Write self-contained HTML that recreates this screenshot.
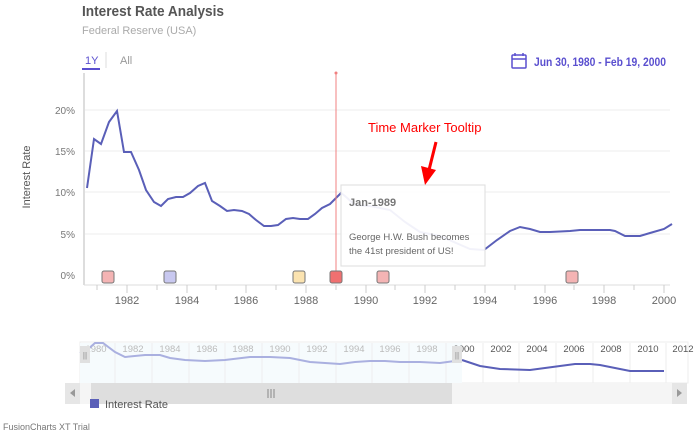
<!DOCTYPE html>
<html><head><meta charset="utf-8"><style>
html,body{margin:0;padding:0;background:#fff;}
svg{display:block;font-family:"Liberation Sans",sans-serif;}
</style></head><body>
<svg width="696" height="437" viewBox="0 0 696 437" xmlns="http://www.w3.org/2000/svg">
<text x="82" y="16" font-size="15" font-weight="bold" fill="#555" textLength="142" lengthAdjust="spacingAndGlyphs">Interest Rate Analysis</text>
<text x="82" y="34" font-size="11" fill="#aaa">Federal Reserve (USA)</text>
<text x="85" y="64" font-size="11" fill="#5a4fcf">1Y</text>
<rect x="82" y="68" width="18" height="2" fill="#5a4fcf"/>
<line x1="106" y1="52" x2="106" y2="68" stroke="#ddd"/>
<text x="120" y="64" font-size="11" fill="#999">All</text>
<g stroke="#5a4fcf" fill="none" stroke-width="1.5"><rect x="512" y="55" width="14" height="13" rx="1"/><line x1="512" y1="59" x2="526" y2="59"/><line x1="515" y1="53" x2="515" y2="56"/><line x1="523" y1="53" x2="523" y2="56"/></g>
<text x="534" y="66" font-size="12" font-weight="bold" fill="#5a4fcf" textLength="132" lengthAdjust="spacingAndGlyphs">Jun 30, 1980 - Feb 19, 2000</text>
<g stroke="#eee"><line x1="84" y1="110" x2="670" y2="110"/><line x1="84" y1="151" x2="670" y2="151"/><line x1="84" y1="192" x2="670" y2="192"/><line x1="84" y1="234" x2="670" y2="234"/></g>
<line x1="84" y1="73" x2="84" y2="285" stroke="#ddd" stroke-width="2"/>
<line x1="84" y1="285" x2="670" y2="285" stroke="#ddd"/>
<g font-size="10" fill="#777" text-anchor="end"><text x="75" y="114">20%</text><text x="75" y="155">15%</text><text x="75" y="196">10%</text><text x="75" y="238">5%</text><text x="75" y="279">0%</text></g>
<text transform="translate(30,177) rotate(-90)" font-size="11" fill="#555" text-anchor="middle">Interest Rate</text>
<g stroke="#ccc"><line x1="97" y1="285" x2="97" y2="290"/><line x1="127" y1="285" x2="127" y2="293"/><line x1="157" y1="285" x2="157" y2="290"/><line x1="187" y1="285" x2="187" y2="293"/><line x1="216" y1="285" x2="216" y2="290"/><line x1="246" y1="285" x2="246" y2="293"/><line x1="276" y1="285" x2="276" y2="290"/><line x1="306" y1="285" x2="306" y2="293"/><line x1="336" y1="285" x2="336" y2="290"/><line x1="366" y1="285" x2="366" y2="293"/><line x1="395" y1="285" x2="395" y2="290"/><line x1="425" y1="285" x2="425" y2="293"/><line x1="455" y1="285" x2="455" y2="290"/><line x1="485" y1="285" x2="485" y2="293"/><line x1="515" y1="285" x2="515" y2="290"/><line x1="545" y1="285" x2="545" y2="293"/><line x1="574" y1="285" x2="574" y2="290"/><line x1="604" y1="285" x2="604" y2="293"/><line x1="634" y1="285" x2="634" y2="290"/><line x1="664" y1="285" x2="664" y2="293"/></g>
<g font-size="11" fill="#666" text-anchor="middle"><text x="127" y="304">1982</text><text x="187" y="304">1984</text><text x="246" y="304">1986</text><text x="306" y="304">1988</text><text x="366" y="304">1990</text><text x="425" y="304">1992</text><text x="485" y="304">1994</text><text x="545" y="304">1996</text><text x="604" y="304">1998</text><text x="664" y="304">2000</text></g>
<polyline fill="none" stroke="#5a5fb8" stroke-width="2" points="87,188 94,139 101,144 109,122 117,111 124,152 131,152 139,170 146,190 154,202 161,206 168,199 176,197 183,197 190,193 198,186 205,183 212,201 220,206 227,211 234,210 242,211 249,214 256,220 264,226 271,226 278,225 286,219 293,218 300,219 308,219 315,214 322,208 330,204 337,197 341,193 345,196 355,205 370,206 390,210 405,222 420,232 440,236 470,249 484,250 497,240 510,231 520,227 530,229 540,232 550,232 570,231 580,230 610,230 615,231 625,236 640,236 650,233 664,229 672,224"/>
<line x1="336" y1="73" x2="336" y2="278" stroke="#f08080" stroke-width="1"/>
<circle cx="336" cy="73" r="1.5" fill="#f08080"/>
<rect x="341" y="185" width="144" height="81" fill="#fff" fill-opacity="0.92" stroke="#ddd"/>
<text x="349" y="206" font-size="11" font-weight="bold" fill="#777">Jan-1989</text>
<text x="349" y="240" font-size="9.5" fill="#666">George H.W. Bush becomes</text>
<text x="349" y="254" font-size="9.5" fill="#666">the 41st president of US!</text>
<text x="368" y="132" font-size="13" fill="#f00">Time Marker Tooltip</text>
<line x1="436" y1="142" x2="429" y2="170" stroke="#f00" stroke-width="3"/>
<polygon points="421,166 436,170 425,185" fill="#f00"/>
<g stroke="#777" stroke-width="1"><rect x="102" y="271" width="12" height="12" rx="2" fill="#f4b4b4"/><rect x="164" y="271" width="12" height="12" rx="2" fill="#c8c8f0"/><rect x="293" y="271" width="12" height="12" rx="2" fill="#fbe3b0"/><rect x="330" y="271" width="12" height="12" rx="2" fill="#f07070"/><rect x="377" y="271" width="12" height="12" rx="2" fill="#f4b4b4"/><rect x="566" y="271" width="12" height="12" rx="2" fill="#f4b4b4"/></g>
<rect x="80" y="342" width="608" height="41" fill="#fff" stroke="#eee"/>
<rect x="80" y="343" width="382" height="40" fill="#f6fbfd"/>
<g stroke="#eee"><line x1="115" y1="343" x2="115" y2="383"/><line x1="152" y1="343" x2="152" y2="383"/><line x1="189" y1="343" x2="189" y2="383"/><line x1="225" y1="343" x2="225" y2="383"/><line x1="262" y1="343" x2="262" y2="383"/><line x1="299" y1="343" x2="299" y2="383"/><line x1="336" y1="343" x2="336" y2="383"/><line x1="372" y1="343" x2="372" y2="383"/><line x1="409" y1="343" x2="409" y2="383"/><line x1="446" y1="343" x2="446" y2="383"/><line x1="483" y1="343" x2="483" y2="383"/><line x1="519" y1="343" x2="519" y2="383"/><line x1="556" y1="343" x2="556" y2="383"/><line x1="593" y1="343" x2="593" y2="383"/><line x1="630" y1="343" x2="630" y2="383"/><line x1="666" y1="343" x2="666" y2="383"/></g>
<g font-size="9.5" text-anchor="middle"><g fill="#bbb"><text x="96" y="352">1980</text><text x="133" y="352">1982</text><text x="170" y="352">1984</text><text x="207" y="352">1986</text><text x="243" y="352">1988</text><text x="280" y="352">1990</text><text x="317" y="352">1992</text><text x="354" y="352">1994</text><text x="390" y="352">1996</text><text x="427" y="352">1998</text></g><g fill="#555"><text x="464" y="352">2000</text><text x="501" y="352">2002</text><text x="537" y="352">2004</text><text x="574" y="352">2006</text><text x="611" y="352">2008</text><text x="648" y="352">2010</text><text x="683" y="352">2012</text></g></g>
<polyline fill="none" stroke="#aab0e0" stroke-width="2" points="80,353 87,350 95,343 103,343 115,352 125,357 145,355 160,355 170,358 185,360 205,361 225,360 250,357 270,357 290,358 310,362 340,364 355,362 370,361 385,361 400,362 420,362 440,363 462,360"/>
<polyline fill="none" stroke="#5a5fb8" stroke-width="2" points="462,360 480,366 500,369 530,370 545,368 560,366 575,364 590,364 600,365 610,367 630,371 664,371"/>
<rect x="80" y="346" width="10" height="17" fill="#e0e0e0"/><text x="85" y="358" font-size="8" fill="#888" text-anchor="middle">||</text>
<rect x="452" y="346" width="10" height="17" fill="#e0e0e0"/><text x="457" y="358" font-size="8" fill="#888" text-anchor="middle">||</text>
<rect x="65" y="383" width="622" height="21" fill="#f5f5f5"/>
<rect x="65" y="383" width="15" height="21" fill="#e6e6e6"/><polygon points="75,389 75,397 70,393" fill="#999"/>
<rect x="672" y="383" width="15" height="21" fill="#e6e6e6"/><polygon points="677,389 677,397 682,393" fill="#999"/>
<rect x="91" y="383" width="361" height="21" fill="#dedede"/>
<g stroke="#888"><line x1="268" y1="389" x2="268" y2="398"/><line x1="271" y1="389" x2="271" y2="398"/><line x1="274" y1="389" x2="274" y2="398"/></g>
<rect x="90" y="399" width="9" height="9" fill="#5a5fb8"/>
<text x="105" y="408" font-size="11" fill="#555">Interest Rate</text>
<text x="3" y="430" font-size="9" fill="#777">FusionCharts XT Trial</text>
</svg>
</body></html>
